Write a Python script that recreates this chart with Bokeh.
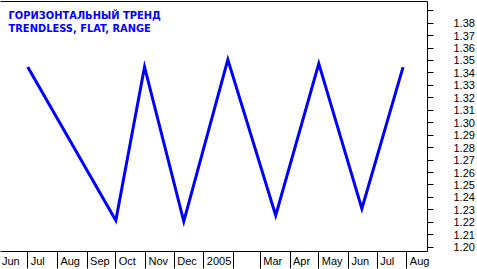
from datetime import datetime, timedelta
from bokeh.plotting import figure
from bokeh.models import (LinearAxis, FixedTicker, Label, Range1d, PrintfTickFormatter)
from bokeh.embed import file_html
from bokeh.resources import INLINE

# ---- data ----
dates = ["2004-07-01", "2004-10-01", "2004-10-31", "2004-12-11", "2005-01-26",
         "2005-03-17", "2005-05-01", "2005-06-15", "2005-07-28"]
prices = [1.3448, 1.2214, 1.3448, 1.2208, 1.3507, 1.2256, 1.3475, 1.2310, 1.3446]

month_starts = ["2004-06-01", "2004-07-01", "2004-08-01", "2004-09-01", "2004-10-01",
                "2004-11-01", "2004-12-01", "2005-01-01", "2005-02-01", "2005-03-01",
                "2005-04-01", "2005-05-01", "2005-06-01", "2005-07-01", "2005-08-01"]
month_labels = ["Jun", "Jul", "Aug", "Sep", "Oct", "Nov", "Dec", "2005", "",
                "Mar", "Apr", "May", "Jun", "Jul", "Aug"]

y_ticks = [1.20, 1.21, 1.22, 1.23, 1.24, 1.25, 1.26, 1.27, 1.28, 1.29,
           1.30, 1.31, 1.32, 1.33, 1.34, 1.35, 1.36, 1.37, 1.38]
y_minor = [1.39]

title_lines = ["ГОРИЗОНТАЛЬНЫЙ ТРЕНД", "TRENDLESS, FLAT, RANGE"]

def ms(s):
    return datetime.strptime(s, "%Y-%m-%d").timestamp() * 1000.0

xs = [datetime.strptime(d, "%Y-%m-%d") for d in dates]
tick_ms = [ms(d) for d in month_starts]

day = 86400000.0
FRAME_W = 428
SPAN_DAYS = 446.0
x_start = ms("2004-07-01") - 28.45 * day
x_end = x_start + SPAN_DAYS * day
px_per_day = FRAME_W / SPAN_DAYS

FONT = "Liberation Sans"
FS = 11
# approximate Arial/Liberation advance widths (per 1000 em) for left-aligning labels
ADV = {"J": 500, "u": 556, "n": 556, "l": 222, "A": 667, "g": 556, "S": 667, "e": 556,
       "p": 556, "O": 778, "c": 500, "t": 278, "N": 722, "o": 556, "v": 500, "D": 722,
       "M": 833, "a": 556, "r": 333, "y": 500, "0": 556, "2": 556, "5": 556}

def text_w(s):
    return sum(ADV.get(ch, 556) for ch in s) * FS / 1000.0

label_pos = []
overrides = {}
for t, lab in zip(tick_ms, month_labels):
    if not lab:
        continue
    c = t + (3.0 + text_w(lab) / 2.0) / px_per_day * day
    label_pos.append(c)
    overrides[c] = lab

p = figure(width=477, height=269, output_backend="svg", toolbar_location=None,
           x_axis_type="datetime", y_axis_location="right",
           x_range=Range1d(x_start, x_end), y_range=Range1d(1.19656, 1.39736),
           min_border_left=0, min_border_right=49, min_border_top=1, min_border_bottom=17)
p.outline_line_color = None
p.background_fill_color = "white"
p.border_fill_color = "white"
p.xgrid.visible = False
p.ygrid.visible = False

# bottom axis: month separators as minor ticks, labels on (invisible) major ticks
xa = p.xaxis[0]
xa.ticker = FixedTicker(ticks=label_pos, minor_ticks=tick_ms)
xa.major_label_overrides = overrides
xa.major_tick_out = 0
xa.major_tick_in = 0
xa.minor_tick_out = 17
xa.minor_tick_in = 0
xa.minor_tick_line_color = "black"
xa.major_label_text_font = FONT
xa.major_label_text_font_size = f"{FS}px"
xa.major_label_text_color = "black"
xa.major_label_standoff = -14
xa.axis_line_color = "black"

# right axis
ya = p.yaxis[0]
ya.ticker = FixedTicker(ticks=y_ticks, minor_ticks=y_minor)
ya.formatter = PrintfTickFormatter(format="%.2f")
ya.major_tick_out = 6
ya.major_tick_in = 0
ya.minor_tick_out = 6
ya.minor_tick_in = 0
ya.major_label_standoff = 20
ya.major_label_text_font = FONT
ya.major_label_text_font_size = f"{FS}px"
ya.major_label_text_color = "black"
ya.axis_line_color = "black"

# top border line
ta = LinearAxis(ticker=FixedTicker(ticks=[]), major_label_text_font_size="1px",
                major_tick_out=0, major_tick_in=0, minor_tick_out=0, minor_tick_in=0,
                major_label_standoff=0, axis_line_color="black")
p.add_layout(ta, "above")

p.line(xs, prices, line_color="#0000FF", line_width=3, line_join="miter")

for i, t in enumerate(title_lines):
    p.add_layout(Label(x=8, y=236.3 - 13.3 * i, x_units="screen", y_units="screen", text=t,
                       text_align="left", text_baseline="middle",
                       text_font="DejaVu Sans Condensed", text_font_size="11px",
                       text_font_style="bold", text_color="#0000FF"))

open("out.html", "w").write(file_html(p, INLINE))
